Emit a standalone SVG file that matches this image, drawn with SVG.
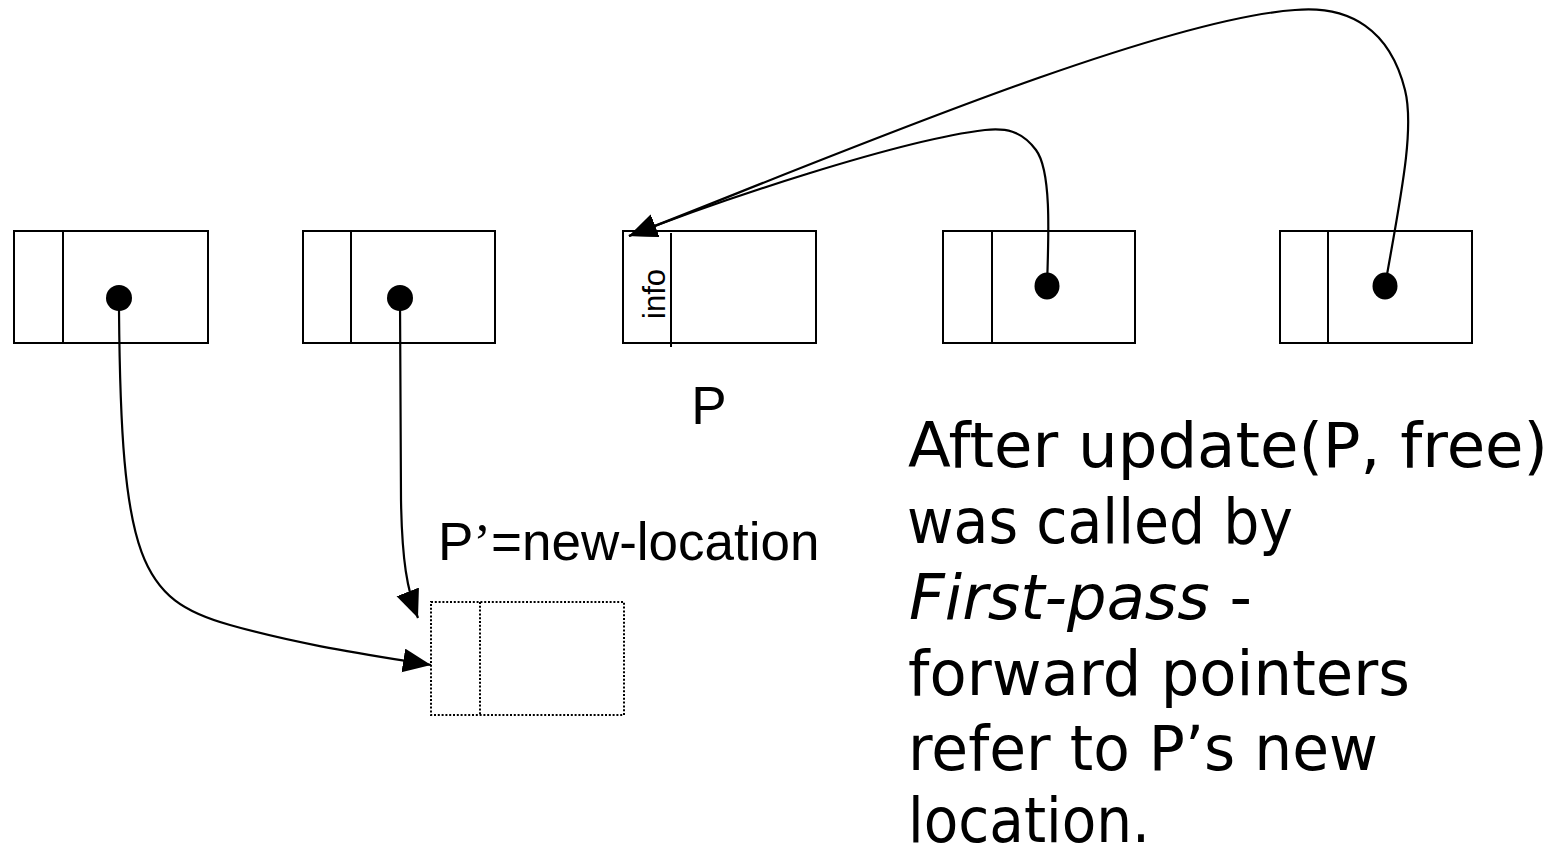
<svg xmlns="http://www.w3.org/2000/svg" width="1555" height="857" viewBox="0 0 1555 857">
  <style>
    .cell { fill: #fff; stroke: #000; stroke-width: 2; }
    .div { stroke: #000; stroke-width: 2; }
    .ghost { fill: #fff; stroke: #000; stroke-width: 2; stroke-dasharray: 2 1.8; }
    .dot { fill: #000; }
    .link { fill: none; stroke: #000; stroke-width: 2.2; }
    .lbl { font-family: "Liberation Sans", Arial, sans-serif; fill: #000; }
    .note { font-family: "Comic Sans MS", "DejaVu Sans", sans-serif; font-size: 63px; fill: #000; }
  </style>
  <defs>
    <marker id="arrow" markerUnits="userSpaceOnUse" markerWidth="30" markerHeight="26" refX="28" refY="12" orient="auto">
      <path d="M0,0 L28,12 L0,24 Z" fill="#000"/>
    </marker>
  </defs>

  <!-- record 1 -->
  <g id="rec1">
    <rect class="cell" x="14" y="231" width="194" height="112"/>
    <line class="div" x1="63" y1="231" x2="63" y2="343"/>
    <circle class="dot" cx="119" cy="298" r="13"/>
  </g>
  <!-- record 2 -->
  <g id="rec2">
    <rect class="cell" x="303" y="231" width="192" height="112"/>
    <line class="div" x1="351" y1="231" x2="351" y2="343"/>
    <circle class="dot" cx="400" cy="298" r="13"/>
  </g>
  <!-- record P (freed) -->
  <g id="recP">
    <rect class="cell" x="623" y="231" width="193" height="112"/>
    <line class="div" x1="671" y1="233" x2="671" y2="347"/>
    <text class="lbl" font-size="31" transform="translate(665,319) rotate(-90)">info</text>
  </g>
  <!-- record 4 -->
  <g id="rec4">
    <rect class="cell" x="943" y="231" width="192" height="112"/>
    <line class="div" x1="992" y1="231" x2="992" y2="343"/>
    <ellipse class="dot" cx="1047" cy="286" rx="12.5" ry="13.5"/>
  </g>
  <!-- record 5 -->
  <g id="rec5">
    <rect class="cell" x="1280" y="231" width="192" height="112"/>
    <line class="div" x1="1328" y1="231" x2="1328" y2="343"/>
    <ellipse class="dot" cx="1385" cy="286" rx="12.5" ry="13.5"/>
  </g>
  <!-- new location of P -->
  <g id="newP">
    <rect class="ghost" x="431" y="602" width="193" height="113"/>
    <line class="ghost" x1="480" y1="602" x2="480" y2="715"/>
  </g>

  <!-- pointers -->
  <g id="links">
    <path class="link" marker-end="url(#arrow)" d="M119,298 L119,310 C121,560 140,600 230,625 C300,645 370,655 431,665"/>
    <path class="link" marker-end="url(#arrow)" d="M400,298 L401,500 C402,560 407,590 418,618"/>
    <path class="link" marker-end="url(#arrow)" d="M1047,286 C1049,230 1051,170 1036,150 C1021,130 1005,128 985,130 C900,140 720,200 629,236"/>
    <path class="link" marker-end="url(#arrow)" d="M1385,286 C1400,200 1415,130 1405,90 C1390,30 1350,5 1295,10 C1150,20 800,170 629,236"/>
  </g>

  <!-- labels -->
  <g id="labels">
    <text class="lbl" font-size="53" x="709" y="424" text-anchor="middle">P</text>
    <text class="lbl" font-size="53" x="438" y="560">P<tspan font-family="Liberation Serif, serif">’</tspan>=new-location</text>
  </g>

  <g id="note">
    <text class="note" x="908" y="467" textLength="640" lengthAdjust="spacingAndGlyphs">After update(P, free)</text>
    <text class="note" x="907" y="543" textLength="386" lengthAdjust="spacingAndGlyphs">was called by</text>
    <text class="note" x="909" y="619" textLength="343" lengthAdjust="spacingAndGlyphs"><tspan font-style="italic">First-pass</tspan> -</text>
    <text class="note" x="908" y="695" textLength="502" lengthAdjust="spacingAndGlyphs">forward pointers</text>
    <text class="note" x="908" y="770" textLength="470" lengthAdjust="spacingAndGlyphs">refer to P’s new</text>
    <text class="note" x="908" y="842" textLength="242" lengthAdjust="spacingAndGlyphs">location.</text>
  </g>
</svg>
